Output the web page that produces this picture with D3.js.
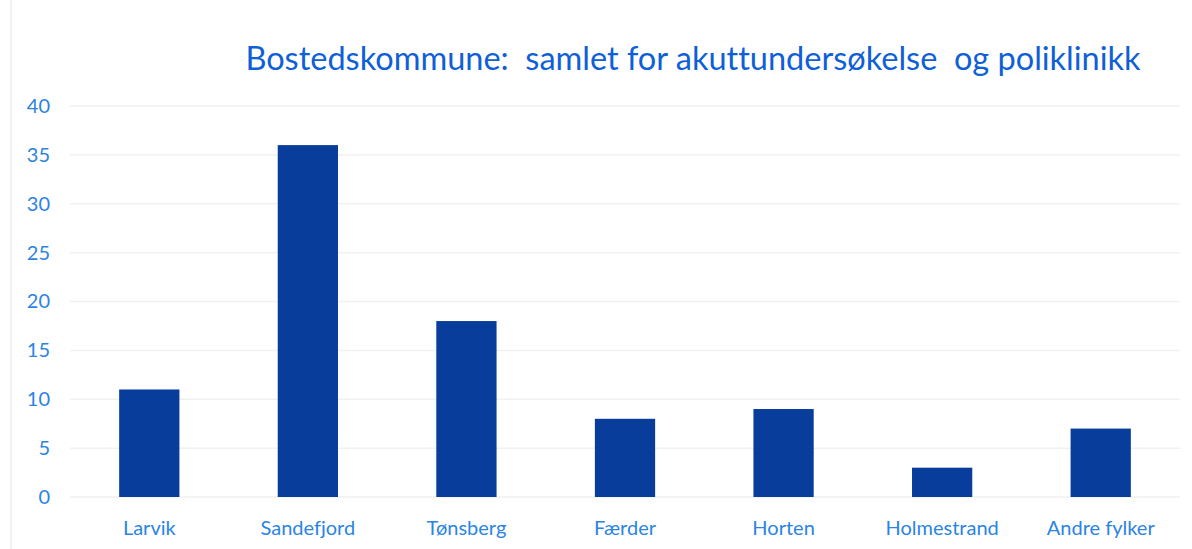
<!DOCTYPE html>
<html>
<head>
<meta charset="utf-8">
<script src="https://cdn.jsdelivr.net/npm/d3@7"></script>
<style>
    body { margin: 0; background: #fff; }
    svg { display: block; }
    text { font-variant-ligatures: none; }
</style>
</head>
<body>
<div id="chart"></div>
<script>
const categories = ["Larvik", "Sandefjord", "Tønsberg", "Færder", "Horten", "Holmestrand", "Andre fylker"];
const values = [11, 36, 18, 8, 9, 3, 7];
const yTicks = [0, 5, 10, 15, 20, 25, 30, 35, 40];
const title = "Bostedskommune:  samlet for akuttundersøkelse  og poliklinikk";

const width = 1192, height = 549;
const margin = {top: 106, right: 12, bottom: 52, left: 70};

const svg = d3.select("#chart").append("svg")
    .attr("width", width)
    .attr("height", height);

// faint scan edge on the left
svg.append("line")
    .attr("x1", 11).attr("x2", 11)
    .attr("y1", 0).attr("y2", height)
    .style("stroke", "#f0f2f4")
    .style("stroke-width", 2);

const x = d3.scaleBand()
    .domain(categories)
    .range([margin.left, width - margin.right])
    .paddingInner(0.62)
    .paddingOuter(0.31);

const y = d3.scaleLinear()
    .domain([0, 40])
    .range([height - margin.bottom, margin.top]);

// gridlines
svg.append("g")
    .selectAll("line")
    .data(yTicks)
    .enter()
    .append("line")
    .attr("x1", margin.left)
    .attr("x2", width - margin.right)
    .attr("y1", d => y(d))
    .attr("y2", d => y(d))
    .style("stroke", "#f1f1f1")
    .style("stroke-width", 1.5);

// y axis labels
const yAxis = svg.append("g")
    .attr("transform", `translate(50,0)`)
    .call(d3.axisLeft(y).tickValues(yTicks).tickSize(0).tickPadding(0));
yAxis.select(".domain").remove();
yAxis.selectAll("text")
    .style("font-family", "Lato, 'Open Sans', sans-serif")
    .style("font-size", "20px")
    .style("fill", "#2b84e4");

// bars
svg.append("g")
    .selectAll("rect")
    .data(values)
    .enter()
    .append("rect")
    .attr("x", (d, i) => x(categories[i]))
    .attr("y", d => y(d))
    .attr("width", x.bandwidth())
    .attr("height", d => y(0) - y(d))
    .style("fill", "#083d9c");

// x axis labels
const xAxis = svg.append("g")
    .attr("transform", `translate(0,${y(0) + 24})`)
    .call(d3.axisBottom(x).tickSize(0).tickPadding(0));
xAxis.select(".domain").remove();
xAxis.selectAll("text")
    .style("font-family", "Lato, 'Open Sans', sans-serif")
    .style("font-size", "20px")
    .style("fill", "#2b84e4");

// title
svg.append("text")
    .attr("x", 693)
    .attr("y", 70)
    .attr("text-anchor", "middle")
    .style("white-space", "pre")
    .style("font-family", "Lato, 'Open Sans', sans-serif")
    .style("font-size", "32.5px")
    .style("fill", "#0e5fd8")
    .text(title);
</script>
</body>
</html>
